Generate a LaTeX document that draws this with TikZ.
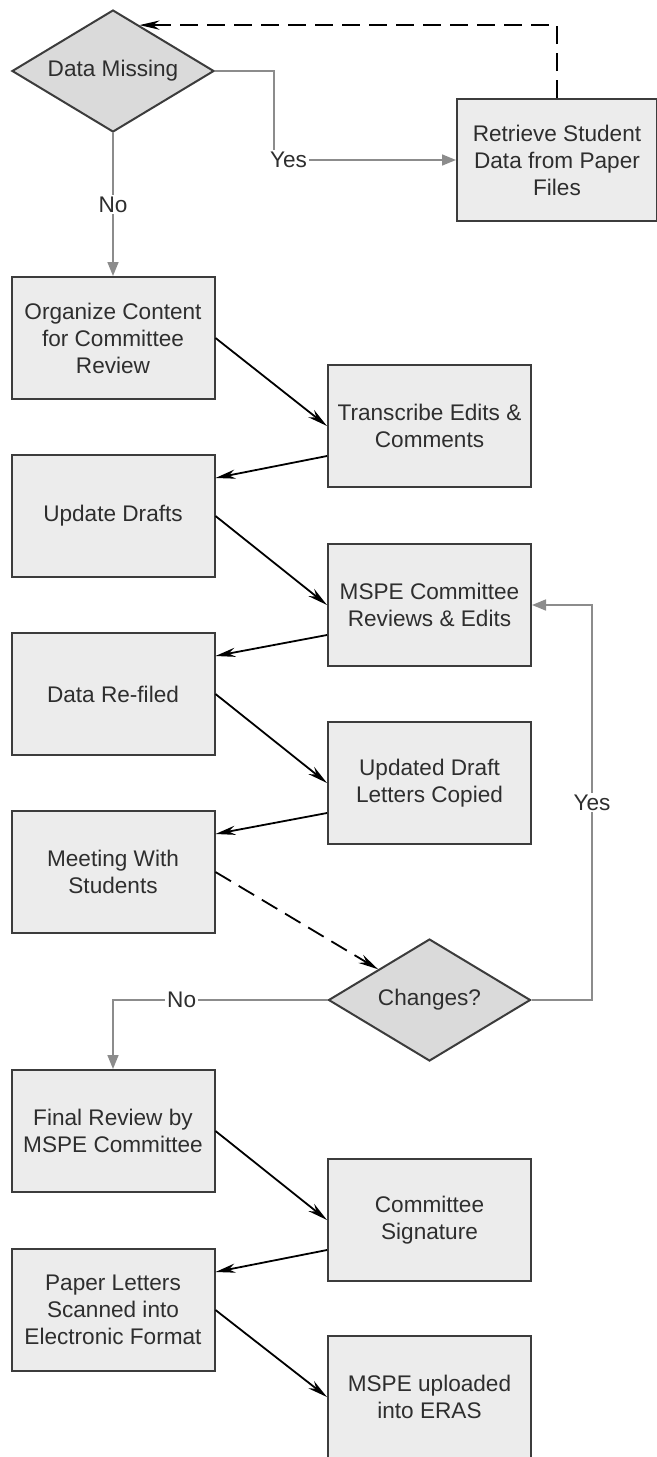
\documentclass[tikz,border=0pt]{standalone}
\usepackage{fontspec}
\setmainfont{Liberation Sans}
\usetikzlibrary{arrows.meta, positioning, shapes.geometric, calc}

\definecolor{boxfill}{HTML}{ECECEC}
\definecolor{dmdfill}{HTML}{DADADA}
\definecolor{edgegray}{HTML}{3C3C3C}
\definecolor{linkgray}{HTML}{8C8C8C}
\definecolor{txtgray}{HTML}{2E2E2E}

\begin{document}
\begin{tikzpicture}[x=0.5pt, y=-0.5pt,
      every node/.style={font=\fontsize{11.3}{13.5}\selectfont, text=txtgray},
      blk/.style={draw=edgegray, line width=1pt, fill=boxfill, minimum width=101.5pt,
                  minimum height=61pt, inner sep=2pt, align=center},
      dec/.style={diamond, aspect=1.66, draw=edgegray, line width=1pt, fill=dmdfill,
                  minimum width=101pt, minimum height=61pt, inner sep=0pt},
      flow/.style={-{Stealth[length=10pt, width=4.6pt]}, line width=0.9pt, black},
      back/.style={flow, dash pattern=on 9pt off 4.5pt},
      gry/.style={-{Triangle[length=7pt, width=5.5pt]}, line width=0.8pt, linkgray},
      lbl/.style={fill=white, inner sep=1pt}]

    \useasboundingbox (0,0) rectangle (657,1457);

    % === Data check ===
    \node[dec] (dmiss) at (113,71) {Data Missing};
    \node[blk, minimum width=100pt] (retr) at (557,160) {Retrieve Student\\Data from Paper\\Files};
    \coordinate (ybend) at (274,160);
    \draw[gry] (dmiss.east) -| (ybend) -- node[pos=0.08, lbl] {Yes} (retr.west);
    \draw[back] (retr.north) |- (dmiss.60);

    % === Drafting loop ===
    \node[blk] (org) at (113,338) {Organize Content\\for Committee\\Review};
    \node[blk] (trans) at (429.5,426) {Transcribe Edits \&\\Comments};
    \node[blk] (upd) at (113,516) {Update Drafts};
    \node[blk] (rev) at (429.5,605) {MSPE Committee\\Reviews \& Edits};
    \node[blk] (refil) at (113,694) {Data Re-filed};
    \node[blk] (copy) at (429.5,783) {Updated Draft\\Letters Copied};
    \node[blk] (meet) at (113,872) {Meeting With\\Students};

    \draw[gry] (dmiss.south) -- node[lbl] {No} (org.north);
    \draw[flow] (org.east) -- (trans.west);
    \draw[flow] ($(trans.west)+(0,30)$) -- ($(upd.east)+(0,-38)$);
    \draw[flow] (upd.east) -- (rev.west);
    \draw[flow] ($(rev.west)+(0,30)$) -- ($(refil.east)+(0,-38)$);
    \draw[flow] (refil.east) -- (copy.west);
    \draw[flow] ($(copy.west)+(0,30)$) -- ($(meet.east)+(0,-38)$);

    % === Changes? ===
    \node[dec] (chg) at (429.5,1000) {Changes?};
    \draw[back] (meet.east) -- (chg);
    \coordinate (ybend2) at (592,605);
    \draw[gry] (chg.east) -| node[pos=0.75, lbl] {Yes} (ybend2) -- (rev.east);

    % === Final steps ===
    \node[blk] (final) at (113,1131) {Final Review by\\MSPE Committee};
    \node[blk] (sign) at (429.5,1220) {Committee\\Signature};
    \node[blk] (scan) at (113,1310) {Paper Letters\\Scanned into\\Electronic Format};
    \node[blk] (upl) at (429.5,1397) {MSPE uploaded\\into ERAS};

    \draw[gry] (chg.west) -| node[pos=0.34, lbl] {No} (final.north);
    \draw[flow] (final.east) -- (sign.west);
    \draw[flow] ($(sign.west)+(0,30)$) -- ($(scan.east)+(0,-38)$);
    \draw[flow] (scan.east) -- (upl.west);

    \end{tikzpicture}
\end{document}
